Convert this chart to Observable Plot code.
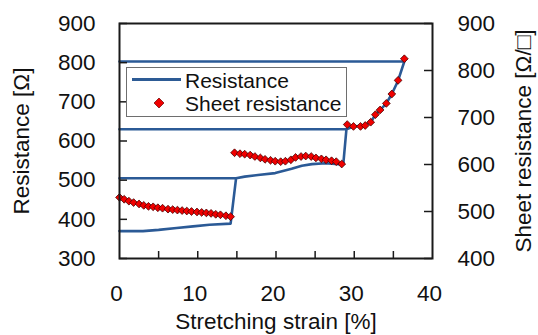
<!DOCTYPE html>
<html>
<head>
<meta charset="utf-8">
<script src="https://cdn.jsdelivr.net/npm/d3@7"></script>
<script src="https://cdn.jsdelivr.net/npm/@observablehq/plot@0.6"></script>
<style>
  html, body { margin: 0; padding: 0; background: #fff; }
  #wrap { position: relative; width: 538px; height: 335px; font-family: 'Liberation Sans', Arial, sans-serif; }
  #legend { position: absolute; left: 126px; top: 67px; width: 221px; height: 50px; box-sizing: border-box;
            border: 1.5px solid #6e6e6e; background: #fff; }
  #legend .t { position: absolute; left: 58px; font-size: 21px; line-height: 1; color: #111; white-space: nowrap; }
  #legend .ln { position: absolute; left: 5px; width: 49px; height: 3px; background: #2d5b95; }
  #legend svg { position: absolute; }
</style>
</head>
<body>
<div id="wrap">
  <div id="chart"></div>
  <div id="legend">
    <div class="ln" style="top:10px"></div>
    <div class="t" style="top:1.5px">Resistance</div>
    <svg style="left:26px;top:29px" width="12" height="12"><polygon points="6,1 11,6 6,11 1,6" fill="#f00000" stroke="#600" stroke-width="0.7"/></svg>
    <div class="t" style="top:24.5px">Sheet resistance</div>
  </div>
</div>
<script>
// Resistance [Ω] (left axis) — path as drawn, including the return strokes to 0 %
const resStrain = [0, 3, 5, 7.3, 9.4, 11.5, 14.2, 14.9, 0, 14.9, 16, 17.7, 19.9, 22, 23.3, 24.6, 26.3, 28, 28.6, 29.0, 0, 29.0, 29.9, 30.8, 31.4, 32.1, 32.7, 33.3, 34.1, 34.8, 35.6, 36.4, 0];
const resValue  = [370, 370, 373, 378, 382, 386, 389, 505, 505, 505, 509, 513, 518, 529, 537, 541, 543, 541, 541, 630, 630, 630, 637, 639, 641, 648, 667, 679, 696, 720, 754, 803, 803];

// Sheet resistance [Ω/□] (right axis)
const sheetStrain = [
  0, 0.6, 1.2, 1.8, 2.5, 3.1, 3.7, 4.3, 4.9, 5.5, 6.2, 6.8, 7.4, 8.0, 8.6, 9.2, 9.9, 10.5, 11.1, 11.7, 12.3, 12.9, 13.6, 14.2,
  14.7, 15.4, 16.0, 16.7, 17.3, 18.0, 18.6, 19.3, 19.9, 20.6, 21.2, 21.9, 22.5, 23.2, 23.8, 24.5, 25.1, 25.8, 26.4, 27.1, 27.7, 28.4,
  29.1, 29.9, 30.8, 31.4, 32.1, 32.7, 33.3, 34.1, 34.8, 35.6, 36.4
];
const sheetValue = [
  530, 526, 522, 519, 516, 513, 511, 510, 508, 507, 505, 504, 503, 502, 501, 500, 499, 498, 497, 496, 494, 493, 491, 489,
  625, 623, 622, 620, 617, 614, 611, 609, 607, 606, 607, 610, 615, 617, 618, 617, 614, 612, 610, 608, 606, 601,
  685, 681, 681, 683, 690, 706, 716, 730, 750, 779, 825
];

const xTickLabels = [0, 10, 20, 30, 40];
const xMinorTicks = [5, 10, 15, 20, 25, 30, 35];
const leftTicks = [300, 400, 500, 600, 700, 800, 900];
const rightTicks = [400, 500, 600, 700, 800, 900];

// map right-axis values onto the left-axis domain
const rightToLeft = v => 300 + (v - 400) * 600 / 500;
const leftToRight = v => 400 + (v - 300) * 500 / 600;

const W = 538, H = 335, mL = 119, mR = 106, mT = 23, mB = 77;
const plotW = W - mL - mR, plotH = H - mT - mB;
const blue = "#2b5a96";

const resData = resStrain.map((s, i) => ({s, v: resValue[i]}));
const sheetData = sheetStrain.map((s, i) => ({s, v: sheetValue[i]}));

const chart = Plot.plot({
  width: W, height: H,
  marginLeft: mL, marginRight: mR, marginTop: mT, marginBottom: mB,
  style: {fontFamily: "'Liberation Sans', Arial, sans-serif", fontSize: "22px", color: "#111", background: "#fff"},
  x: {domain: [0, 40]},
  y: {domain: [300, 900]},
  marks: [
    Plot.line(resData, {x: "s", y: "v", stroke: blue, strokeWidth: 2.6, curve: "linear"}),
    Plot.dot(sheetData, {x: "s", y: d => rightToLeft(d.v), symbol: "diamond2", r: 3.5, fill: "#f00000", stroke: "#4a0000", strokeWidth: 0.8}),
    Plot.tickX(xMinorTicks, {x: d => d, insetTop: plotH - 7, stroke: "#1a1a1a", strokeWidth: 1.5}),
    Plot.tickY(leftTicks, {y: d => d, insetRight: plotW - 8, stroke: "#1a1a1a", strokeWidth: 1.5}),
    Plot.tickY(rightTicks.map(rightToLeft), {y: d => d, insetLeft: plotW - 8, stroke: "#1a1a1a", strokeWidth: 1.5}),
    Plot.frame({stroke: "#1a1a1a", strokeWidth: 2}),
    Plot.axisX(xTickLabels, {tickSize: 0, tickPadding: 27, dx: -3, fontSize: 22.5,
      label: "Stretching strain [%]", labelAnchor: "center", labelOffset: 70, labelArrow: "none"}),
    Plot.axisY(leftTicks, {anchor: "left", tickSize: 0, tickPadding: 24, fontSize: 22.5,
      label: "Resistance [Ω]", labelAnchor: "center", labelOffset: 106, labelArrow: "none"}),
    Plot.axisY(rightTicks.map(rightToLeft), {anchor: "right", tickSize: 0, tickPadding: 25, fontSize: 22.5,
      tickFormat: d => String(Math.round(leftToRight(d))),
      label: "Sheet resistance [Ω/□]", labelAnchor: "center", labelOffset: 98, labelArrow: "none"})
  ]
});
document.getElementById("chart").appendChild(chart);
</script>
</body>
</html>
